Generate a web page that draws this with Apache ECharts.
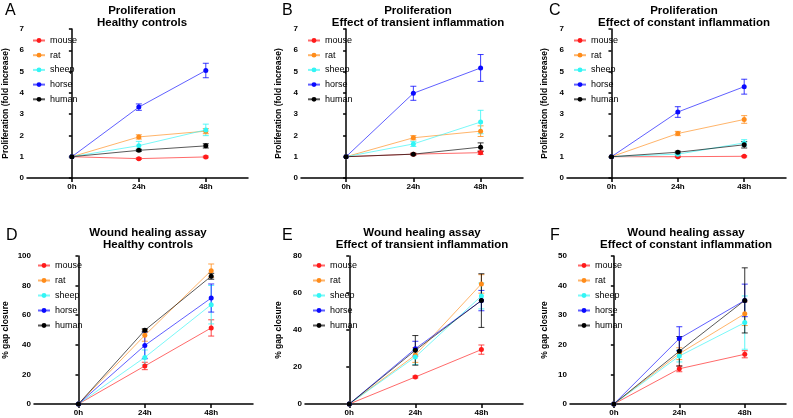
<!DOCTYPE html>
<html><head><meta charset="utf-8">
<script src="https://cdn.jsdelivr.net/npm/echarts@6/dist/echarts.min.js"></script>
<style>html,body{margin:0;padding:0;background:#fff}#c{width:793px;height:418px}</style>
</head><body><div id="c"></div>
<script>
const xLabels = ['0h', '24h', '48h'];
const xPos = [0, 1, 2];
const species = ['mouse', 'rat', 'sheep', 'horse', 'human'];
const colors = ['#ff1a1a', '#ff8c1a', '#33f5f5', '#0a0aff', '#000000'];

const propA_mean = [[1, 0.91, 0.99], [1, 1.93, 2.2], [1, 1.52, 2.26], [1, 3.33, 5.05], [1, 1.30, 1.51]];
const propA_err  = [[0, 0.04, 0.04], [0, 0.1, 0.12], [0, 0.2, 0.27], [0, 0.15, 0.34], [0, 0.05, 0.1]];
const propB_mean = [[1, 1.12, 1.19], [1, 1.89, 2.2], [1, 1.6, 2.63], [1, 3.98, 5.17], [1, 1.12, 1.45]];
const propB_err  = [[0, 0.04, 0.08], [0, 0.1, 0.25], [0, 0.12, 0.55], [0, 0.33, 0.63], [0, 0.04, 0.2]];
const propC_mean = [[1, 1.0, 1.02], [1, 2.09, 2.75], [1, 1.12, 1.65], [1, 3.1, 4.29], [1, 1.21, 1.56]];
const propC_err  = [[0, 0.03, 0.03], [0, 0.1, 0.18], [0, 0.05, 0.15], [0, 0.25, 0.35], [0, 0.05, 0.15]];
const woundD_mean = [[0, 25.7, 51.4], [0, 46.4, 90.1], [0, 31.5, 67.1], [0, 39.6, 71.6], [0, 49.8, 86.3]];
const woundD_err  = [[0, 2.5, 5.5], [0, 4, 4.5], [0, 5, 13], [0, 9, 9.5], [0, 1, 2]];
const woundE_mean = [[0, 14.6, 29.4], [0, 26.5, 64.9], [0, 25.4, 58.4], [0, 29.9, 55.9], [0, 29.0, 55.9]];
const woundE_err  = [[0, 0.5, 2.5], [0, 4, 5], [0, 4, 7], [0, 4, 5.5], [0, 8, 14.5]];
const woundF_mean = [[0, 11.9, 16.8], [0, 17.0, 30.5], [0, 16.2, 27.5], [0, 22.1, 35.0], [0, 17.8, 35.0]];
const woundF_err  = [[0, 1, 1.2], [0, 2, 4], [0, 2, 9], [0, 4, 5.5], [0, 5, 11]];

const titles1 = ['Proliferation', 'Proliferation', 'Proliferation', 'Wound healing assay', 'Wound healing assay', 'Wound healing assay'];
const titles2 = ['Healthy controls', 'Effect of transient inflammation', 'Effect of constant inflammation', 'Healthy controls', 'Effect of transient inflammation', 'Effect of constant inflammation'];
const letters = ['A', 'B', 'C', 'D', 'E', 'F'];
const yNames = ['Proliferation (fold increase)', 'Proliferation (fold increase)', 'Proliferation (fold increase)', '% gap closure', '% gap closure', '% gap closure'];
const yMax = [7, 7, 7, 100, 80, 50];
const yInterval = [1, 1, 1, 20, 20, 10];

const means = [propA_mean, propB_mean, propC_mean, woundD_mean, woundE_mean, woundF_mean];
const errs = [propA_err, propB_err, propC_err, woundD_err, woundE_err, woundF_err];

// layout
const grids = [
  {left: 25, width: 223, top: 29, height: 149},
  {left: 301, width: 222, top: 29, height: 149},
  {left: 567, width: 219, top: 29, height: 149},
  {left: 33, width: 220, top: 256, height: 148},
  {left: 305, width: 218, top: 256, height: 148},
  {left: 570, width: 216, top: 256, height: 148}
];
const titleX = [137, 413, 679, 143, 417, 681];
const titleTop = [0, 0, 0, 222, 222, 222];
const letterPos = [[5, 3], [282, 3], [549, 3], [6, 228], [282, 228], [550, 228]];
const nameGaps = [17, 18, 18, 24, 22, 21];
const legendPos = [[32, 35], [307, 35], [573, 35], [37, 260], [312, 260], [577, 260]];
const legendGap = [3.7, 3.7, 3.7, 4.0, 4.0, 4.0];

const FONT = 'Liberation Sans, Arial, sans-serif';
const option = {
  animation: false,
  textStyle: {fontFamily: FONT},
  grid: [], xAxis: [], yAxis: [], series: [], title: [], legend: [], graphic: []
};

for (let p = 0; p < 6; p++) {
  option.grid.push(Object.assign({}, grids[p]));
  option.xAxis.push({
    gridIndex: p, type: 'value', min: -0.67, max: 2.63,
    splitLine: {show: false},
    axisLine: {lineStyle: {color: '#000', width: 1.5}},
    axisTick: {customValues: xPos, length: 4, lineStyle: {color: '#000', width: 1.5}},
    axisLabel: {customValues: xPos, formatter: v => xLabels[Math.round(v)], color: '#000', fontWeight: 'bold', fontSize: 8, margin: 5, fontFamily: FONT}
  });
  option.yAxis.push({
    gridIndex: p, type: 'value', min: 0, max: yMax[p], interval: yInterval[p],
    name: yNames[p], nameLocation: 'middle', nameGap: nameGaps[p],
    nameTextStyle: {color: '#000', fontWeight: 'bold', fontSize: 8.5, fontFamily: FONT},
    splitLine: {show: false},
    axisLine: {show: true, lineStyle: {color: '#000', width: 1.5}},
    axisTick: {show: true, length: 3, lineStyle: {color: '#000', width: 1.5}},
    axisLabel: {color: '#000', fontWeight: 'bold', fontSize: 8, margin: 3, fontFamily: FONT}
  });
  option.title.push({
    text: titles1[p] + '\n' + titles2[p], left: titleX[p], top: titleTop[p], textAlign: 'center',
    textStyle: {fontSize: 11.5, fontWeight: 'bold', color: '#000', lineHeight: 12, fontFamily: FONT}
  });
  option.graphic.push({
    type: 'text', left: letterPos[p][0], top: letterPos[p][1],
    style: {text: letters[p], fontSize: 16, fill: '#000', fontFamily: FONT}
  });
  option.legend.push({
    data: species, orient: 'vertical', left: legendPos[p][0], top: legendPos[p][1],
    padding: 0,
    itemWidth: 12, itemHeight: 6, itemGap: legendGap[p],
    textStyle: {fontSize: 9, color: '#000', fontFamily: FONT, lineHeight: 11},
    selectedMode: false
  });
  for (let s = 0; s < 5; s++) {
    option.series.push({
      type: 'line', name: species[s], xAxisIndex: p, yAxisIndex: p,
      data: xPos.map((x, i) => [x, means[p][s][i]]),
      symbol: 'circle', symbolSize: 5,
      itemStyle: {color: colors[s]},
      lineStyle: {color: colors[s], width: 1, opacity: 0.65},
      z: 3
    });
    option.series.push({
      type: 'custom', name: species[s] + ' error', xAxisIndex: p, yAxisIndex: p,
      data: xPos.map((x, i) => [x, means[p][s][i], errs[p][s][i]]).filter(d => d[2] > 0),
      z: 2,
      renderItem: (params, api) => {
        const x = api.value(0), m = api.value(1), e = api.value(2);
        const hi = api.coord([x, m + e]);
        const lo = api.coord([x, m - e]);
        const st = {stroke: colors[s], lineWidth: 1, opacity: 0.8};
        return {type: 'group', children: [
          {type: 'line', shape: {x1: hi[0], y1: hi[1], x2: lo[0], y2: lo[1]}, style: st},
          {type: 'line', shape: {x1: hi[0] - 3, y1: hi[1], x2: hi[0] + 3, y2: hi[1]}, style: st},
          {type: 'line', shape: {x1: lo[0] - 3, y1: lo[1], x2: lo[0] + 3, y2: lo[1]}, style: st}
        ]};
      }
    });
  }
}

const chart = echarts.init(document.getElementById('c'), null, {renderer: 'canvas'});
chart.setOption(option);
</script>
</body></html>
